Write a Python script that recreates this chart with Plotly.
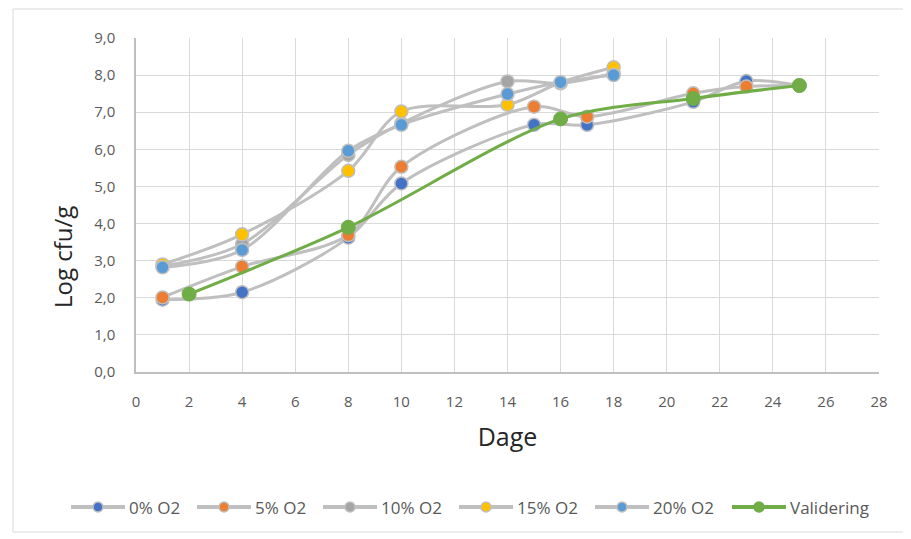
import plotly.graph_objects as go

# Data
x_low = [1, 4, 8, 10, 15, 17, 21, 23, 25]          # days for 0% and 5% O2
y_0pct = [1.95, 2.15, 3.62, 5.08, 6.66, 6.66, 7.28, 7.84, 7.72]
y_5pct = [2.01, 2.84, 3.69, 5.53, 7.15, 6.88, 7.51, 7.69, 7.72]

x_high = [1, 4, 8, 10, 14, 16, 18]                   # days for 10/15/20% O2
y_10pct = [2.85, 3.45, 5.85, 6.70, 7.83, 7.78, 8.05]
y_15pct = [2.90, 3.71, 5.42, 7.02, 7.20, 7.80, 8.21]
y_20pct = [2.82, 3.29, 5.96, 6.66, 7.49, 7.81, 8.00]

x_val = [2, 8, 16, 21, 25]
y_val = [2.10, 3.90, 6.82, 7.37, 7.72]

series_names = ["0% O2", "5% O2", "10% O2", "15% O2", "20% O2"]
series_x = [x_low, x_low, x_high, x_high, x_high]
series_y = [y_0pct, y_5pct, y_10pct, y_15pct, y_20pct]
series_colors = ["#4472C4", "#ED7D31", "#A5A5A5", "#FFC000", "#5B9BD5"]
val_name = "Validering"

x_ticks = list(range(0, 29, 2))
y_ticks = list(range(0, 10))

FONT = "Open Sans"
GREY_LINE = "#BFBFBF"
GREEN = "#70AD47"

fig = go.Figure()
for name, xs, ys, col in zip(series_names, series_x, series_y, series_colors):
    fig.add_trace(go.Scatter(
        x=xs, y=ys, name=name, mode="lines+markers",
        line=dict(color=GREY_LINE, width=3, shape="spline", smoothing=0.9),
        marker=dict(size=13, color=col, line=dict(color=GREY_LINE, width=1.5)),
    ))

fig.add_trace(go.Scatter(
    x=x_val, y=y_val, name=val_name, mode="lines+markers",
    line=dict(color=GREEN, width=3, shape="spline", smoothing=0.9),
    marker=dict(size=14, color=GREEN, line=dict(color=GREEN, width=1)),
))

OFF = 8  # page body margin
W, H = 911 - OFF, 539 - OFF
PL, PR, PT, PB = 136, 879, 38, 372  # plot area in page pixels
L, T = PL - OFF, PT - OFF
R = W - (PR - OFF)
B = H - (PB - OFF)
pw, ph = PR - PL, PB - PT

def px_x(p):
    return (p - PL) / pw

def px_y(p):
    return (PB - p) / ph

# chart border
fig.add_shape(type="rect", xref="paper", yref="paper",
              x0=px_x(13), x1=px_x(907), y0=px_y(532), y1=px_y(9),
              line=dict(color="#D9D9D9", width=1), fillcolor="rgba(0,0,0,0)",
              layer="below")

# y-axis title (placed like the reference, below centre)
fig.add_annotation(text="Log cfu/g", xref="paper", yref="paper",
                   x=px_x(62), y=px_y(257), xanchor="center", yanchor="middle",
                   textangle=-90, showarrow=False,
                   font=dict(family=FONT, size=24, color="#262626"))

# legend drawn to match the reference (long line + small marker + label)
leg_y = px_y(507)
leg_starts = [71, 197, 323, 459, 595, 732]
leg_names = series_names + [val_name]
leg_fill = series_colors + [GREEN]
leg_line = [GREY_LINE] * 5 + [GREEN]
for x0, nm, fc, lc in zip(leg_starts, leg_names, leg_fill, leg_line):
    fig.add_shape(type="line", xref="paper", yref="paper",
                  x0=px_x(x0), x1=px_x(x0 + 54), y0=leg_y, y1=leg_y,
                  line=dict(color=lc, width=4))
    fig.add_shape(type="circle", xref="paper", yref="paper",
                  xsizemode="pixel", ysizemode="pixel",
                  xanchor=px_x(x0 + 27), yanchor=leg_y,
                  x0=-5, x1=5, y0=-5, y1=5,
                  fillcolor=fc, line=dict(color=lc, width=1.5))
    fig.add_annotation(text=nm, xref="paper", yref="paper",
                       x=px_x(x0 + 56), y=leg_y, xanchor="left", yanchor="middle",
                       showarrow=False,
                       font=dict(family=FONT, size=17, color="#595959"))

fig.update_layout(
    width=W, height=H,
    margin=dict(l=L, r=R, t=T, b=B, pad=0, autoexpand=False),
    paper_bgcolor="white", plot_bgcolor="white",
    separators=", ",
    font=dict(family=FONT, color="#595959", size=15),
    showlegend=False,
    xaxis=dict(range=[0, 28], tickvals=x_ticks, ticktext=[str(v) for v in x_ticks],
               showgrid=True, gridcolor="#D9D9D9", gridwidth=1,
               showline=True, linecolor="#BFBFBF", linewidth=1.5,
               zeroline=False, ticks="", tickfont=dict(size=15, color="#595959"),
               ticklabelstandoff=15,
               title=dict(text="Dage", font=dict(size=25, color="#262626"), standoff=19)),
    yaxis=dict(range=[0, 9], tickvals=y_ticks, tickformat=".1f",
               showgrid=True, gridcolor="#D9D9D9", gridwidth=1,
               showline=True, linecolor="#BFBFBF", linewidth=1.5,
               zeroline=False, ticks="", tickfont=dict(size=15, color="#595959"),
               ticklabelstandoff=16),
)

fig.write_html("out.html")
